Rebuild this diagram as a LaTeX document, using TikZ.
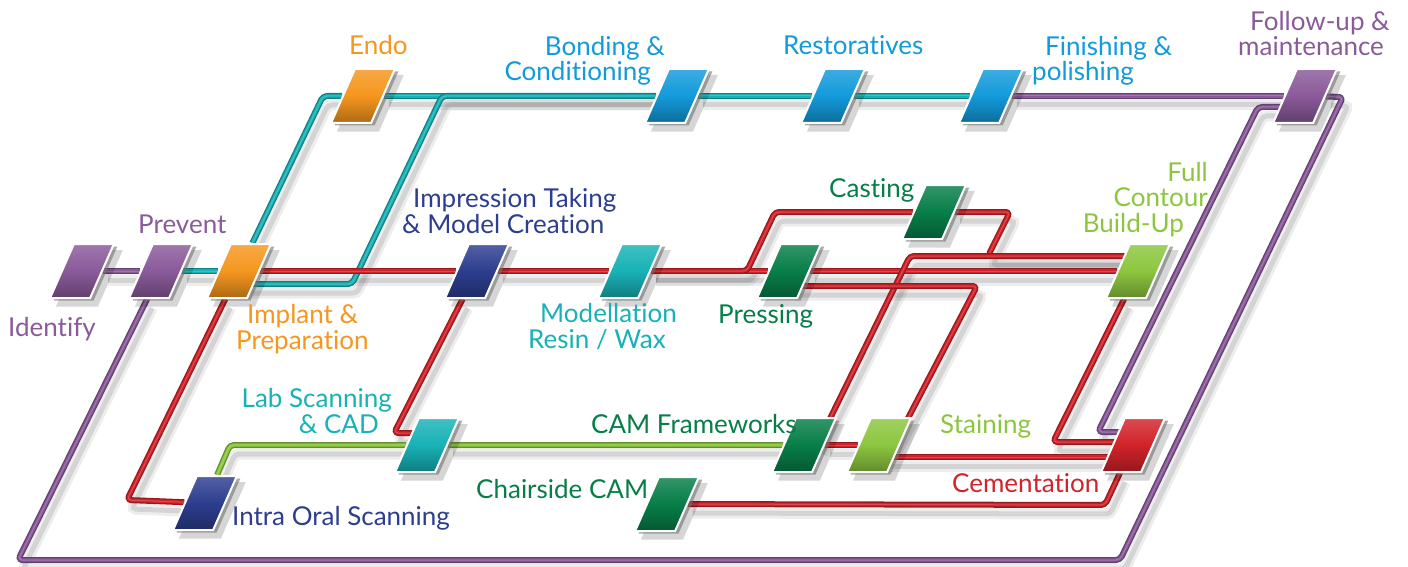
\documentclass[tikz,border=0pt]{standalone}
\usepackage{fontspec}
\setmainfont{Lato}[Ligatures={NoCommon,NoRare}]
\usetikzlibrary{shadows,calc}

\definecolor{cPurple}{HTML}{8A5A9A}
\definecolor{cOrange}{HTML}{F5961E}
\definecolor{cBlue}{HTML}{139ADB}
\definecolor{cNavy}{HTML}{2D3E8F}
\definecolor{cTeal}{HTML}{18B2B6}
\definecolor{cDkGreen}{HTML}{077E48}
\definecolor{cLtGreen}{HTML}{8CC63F}
\definecolor{cRed}{HTML}{D2232A}

\pgfdeclarelayer{back}
\pgfdeclarelayer{lines}
\pgfsetlayers{back,lines,main}

% all connectors; the look of each is set through the style "link"
\newcommand\linkpaths{%
  % purple
  \path[link=cPurple] (identify) -- (prevent);
  \path[link=cPurple] (prevent) -- (18,560) -- (1120,560) -- (1343,97) -- (follow);
  \path[link=cPurple] (finishing) -- (follow);
  \path[link=cPurple] ($(follow)+(0,11)$) -- (1258,107) -- (1098,432) -- ($(cementation)+(0,-13)$);
  % teal
  \path[link=cTeal] (prevent) -- (implant);
  \path[link=cTeal] (implant) -- (323,96) -- (endo);
  \path[link=cTeal] (endo) -- (bonding);
  \path[link=cTeal] ($(implant)+(0,13)$) -- (352,284) -- (442,96) -- (bonding);
  \path[link=cTeal] (bonding) -- (restoratives);
  \path[link=cTeal] (restoratives) -- (finishing);
  % green
  \path[link=cLtGreen] (ios) -- (230,445) -- (lab) -- (camfw);
  % red
  \path[link=cRed] (implant) -- (impression) -- (modellation) -- (pressing) -- (fullcontour);
  \path[link=cRed] (implant) -- (127,500) -- (ios);
  \path[link=cRed] (impression) -- (394,433) -- ($(lab)+(0,-12)$);
  \path[link=cRed] (modellation) -- (747,271) -- (775,212) -- (casting);
  \path[link=cRed] (casting) -- (1010,212) -- (988,256) -- ($(fullcontour)+(0,-15)$);
  \path[link=cRed] ($(fullcontour)+(0,-15)$) -- (910,256) -- ($(camfw)+(13,0)$);
  \path[link=cRed] ($(pressing)+(0,15)$) -- (977,286) -- ($(staining)+(15,0)$);
  \path[link=cRed] (camfw) -- (staining);
  \path[link=cRed] ($(staining)+(0,12)$) -- ($(cementation)+(0,12)$);
  \path[link=cRed] (fullcontour) -- (1053,442) -- ($(cementation)+(0,-3)$);
  \path[link=cRed] (chairside) -- (1105,505) -- (cementation);
}

\begin{document}
\begin{tikzpicture}[x=1pt,y=-1pt,
  stepbox/.style={shape=rectangle, minimum width=40pt, minimum height=54pt, inner sep=0pt,
    xslant=0.44, transform shape,
    draw=white, line width=2pt,
    top color=#1!82!white, bottom color=#1!70!black, middle color=#1,
    drop shadow={shadow xshift=7pt, shadow yshift=-7pt, opacity=.16, fill=black, shadow scale=1.05},
    drop shadow={shadow xshift=3.5pt, shadow yshift=-2.5pt, opacity=.6, fill=black!55}},
  lbl/.style={font=\fontsize{26}{25.5}\selectfont, inner sep=0pt, text=#1},
  tube/.style={draw=#1!72!black, line width=6pt, rounded corners=4pt, line join=round,
    postaction={draw=#1, line width=3.4pt},
    postaction={draw=#1!60!white, line width=1pt, opacity=.45}},
  shadowtube/.style={draw=black, line width=11pt, opacity=.07, rounded corners=4pt,
    transform canvas={xshift=5pt, yshift=-9pt},
    postaction={draw=black, line width=5pt, opacity=.1}}]

\begin{pgfonlayer}{back}
  \fill[white] (0,0) rectangle (1408,567);
\end{pgfonlayer}
\useasboundingbox (0,0) rectangle (1408,567);

% process steps
\node[stepbox=cPurple]  (identify)     at (82,271)  {};
\node[stepbox=cPurple]  (prevent)      at (161,271) {};
\node[stepbox=cOrange]  (implant)      at (239,271) {};
\node[stepbox=cOrange]  (endo)         at (363,96)  {};
\node[stepbox=cBlue]    (bonding)      at (677,96)  {};
\node[stepbox=cBlue]    (restoratives) at (833,96)  {};
\node[stepbox=cBlue]    (finishing)    at (991,96)  {};
\node[stepbox=cPurple]  (follow)       at (1305,96) {};
\node[stepbox=cNavy]    (impression)   at (477,271) {};
\node[stepbox=cTeal]    (modellation)  at (630,271) {};
\node[stepbox=cDkGreen] (pressing)     at (789,271) {};
\node[stepbox=cDkGreen] (casting)      at (934,212) {};
\node[stepbox=cLtGreen] (fullcontour)  at (1138,271) {};
\node[stepbox=cTeal]    (lab)          at (427,445) {};
\node[stepbox=cDkGreen] (camfw)        at (804,445) {};
\node[stepbox=cLtGreen] (staining)     at (879,445) {};
\node[stepbox=cRed]     (cementation)  at (1133,445) {};
\node[stepbox=cNavy]    (ios)          at (205,503) {};
\node[stepbox=cDkGreen] (chairside)    at (667,504) {};

% labels (multi-line labels are placed by the baseline of their last line)
\node[lbl=cPurple, anchor=base west] (tIdentify) at (8,336) {Identify};
\node[lbl=cPurple, anchor=base west] (tPrevent) at (138,233) {Prevent};
\node[lbl=cOrange, anchor=base west] (tEndo) at (349,55) {Endo};
\node[lbl=cBlue, anchor=base east, align=right] (tBonding) at (665,81) {Bonding \&\\Conditioning\hspace*{14pt}};
\node[lbl=cBlue, anchor=base west] (tRestoratives) at (783,55) {Restoratives};
\node[lbl=cBlue, anchor=base west, align=left] (tFinishing) at (1032,81) {\hspace*{13pt}Finishing \&\\polishing};
\node[lbl=cPurple, anchor=base west, align=left] (tFollow) at (1238,56) {\hspace*{12pt}Follow-up \&\\maintenance};
\node[lbl=cNavy, anchor=base west, align=left] (tImpression) at (402,233) {\hspace*{11pt}Impression Taking\\\& Model Creation};
\node[lbl=cOrange, anchor=base west, align=left] (tImplant) at (236,349) {\hspace*{11pt}Implant \&\\Preparation};
\node[lbl=cTeal, anchor=base west, align=left] (tModellation) at (528,348) {\hspace*{12pt}Modellation\\Resin / Wax};
\node[lbl=cDkGreen, anchor=base west] (tPressing) at (718,323) {Pressing};
\node[lbl=cDkGreen, anchor=base west] (tCasting) at (829,197) {Casting};
\node[lbl=cLtGreen, anchor=base east, align=right] (tFull) at (1208,232) {Full\\Contour\hspace*{12pt}\\Build-Up\hspace*{24pt}};
\node[lbl=cTeal, anchor=base east, align=right] (tLab) at (392,433) {Lab Scanning\\\& CAD\hspace*{13pt}};
\node[lbl=cDkGreen, anchor=base west] (tCam) at (591,433) {CAM Frameworks};
\node[lbl=cLtGreen, anchor=base west] (tStaining) at (940,433) {Staining};
\node[lbl=cRed, anchor=base west] (tCementation) at (952,492) {Cementation};
\node[lbl=cDkGreen, anchor=base west] (tChairside) at (476,498) {Chairside CAM};
\node[lbl=cNavy, anchor=base west] (tIos) at (232,525) {Intra Oral Scanning};

% connectors, under the steps
\begin{pgfonlayer}{lines}
  \tikzset{link/.style={shadowtube}}
  \linkpaths
  \tikzset{link/.style={tube=#1}}
  \linkpaths
\end{pgfonlayer}
\end{tikzpicture}
\end{document}
